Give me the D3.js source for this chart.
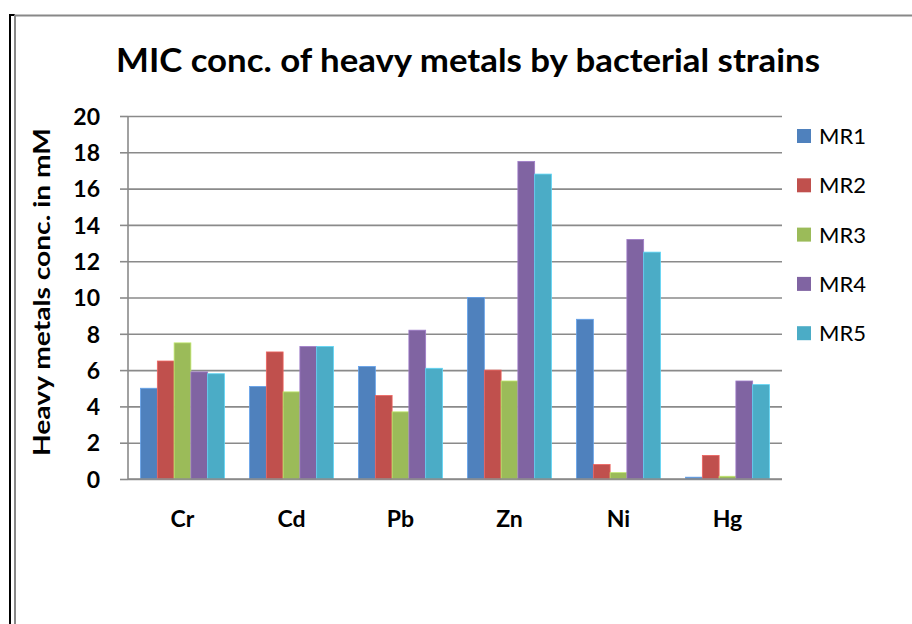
<!DOCTYPE html>
<html>
<head>
<meta charset="utf-8">
<script src="https://cdn.jsdelivr.net/npm/d3@7/dist/d3.min.js"></script>
<style>
  html, body { margin: 0; padding: 0; background: #fff; }
  svg { display: block; }
  text { font-family: Lato, "Open Sans", "Liberation Sans", sans-serif; fill: #000; }
</style>
</head>
<body>
<svg id="chart" width="912" height="624"></svg>
<script>
// Metals tested and MIC values (mM) for each bacterial strain
const categories = ["Cr", "Cd", "Pb", "Zn", "Ni", "Hg"];
const seriesNames = ["MR1", "MR2", "MR3", "MR4", "MR5"];
const MR1 = [5.0, 5.1, 6.2, 10.0, 8.8, 0.1];
const MR2 = [6.5, 7.0, 4.6, 6.0, 0.8, 1.3];
const MR3 = [7.5, 4.8, 3.7, 5.4, 0.35, 0.15];
const MR4 = [5.9, 7.3, 8.2, 17.5, 13.2, 5.4];
const MR5 = [5.8, 7.3, 6.1, 16.8, 12.5, 5.2];
const yTicks = [0, 2, 4, 6, 8, 10, 12, 14, 16, 18, 20];
const colors = ["#4F81BD", "#C0504D", "#9BBB59", "#8064A2", "#4BACC6"];

const seriesValues = [MR1, MR2, MR3, MR4, MR5];
const svg = d3.select("#chart");

// Outer frame
svg.append("path")
  .attr("d", "M10,624 V15 H15")
  .attr("fill", "none").attr("stroke", "#000").attr("stroke-width", 2);
svg.append("path")
  .attr("d", "M15,624 V15.5 H912")
  .attr("fill", "none").attr("stroke", "#888").attr("stroke-width", 2);

const plot = { left: 128, right: 782, top: 116, bottom: 479 };

const y = d3.scaleLinear().domain([0, 20]).range([plot.bottom, plot.top]);
const gapRatio = 1.5 / 6.5;
const x0 = d3.scaleBand().domain(categories)
  .range([plot.left, plot.right])
  .paddingInner(gapRatio).paddingOuter(gapRatio / 2);
const x1 = d3.scaleBand().domain(seriesNames).range([0, x0.bandwidth()]).padding(0);

// Horizontal gridlines with outer tick marks
const yAxis = d3.axisLeft(y).tickValues(yTicks)
  .tickSize(-(plot.right - plot.left)).tickSizeOuter(0).tickFormat(d3.format("d"));
const gy = svg.append("g").attr("transform", `translate(${plot.left},0)`).call(yAxis);
gy.select(".domain").remove();
gy.selectAll(".tick line").attr("stroke", "#8a8a8a").attr("stroke-width", 1.6);
gy.selectAll(".tick").append("line")
  .attr("x1", -8).attr("x2", 0).attr("stroke", "#8a8a8a").attr("stroke-width", 1.6);
gy.selectAll(".tick text")
  .attr("x", -28).attr("dy", "0.36em")
  .attr("font-size", 23).attr("font-weight", 700)
  .attr("text-anchor", "end");

// Vertical axis line
svg.append("line")
  .attr("x1", plot.left).attr("x2", plot.left)
  .attr("y1", plot.top).attr("y2", plot.bottom)
  .attr("stroke", "#8a8a8a").attr("stroke-width", 1.6);

// Bars
const groups = svg.append("g").selectAll("g")
  .data(categories).join("g")
  .attr("transform", d => `translate(${x0(d)},0)`);
groups.selectAll("rect")
  .data((c, i) => seriesNames.map((s, k) => ({ s, k, v: seriesValues[k][i] })))
  .join("rect")
  .attr("x", d => x1(d.s))
  .attr("y", d => y(d.v))
  .attr("width", x1.bandwidth())
  .attr("height", d => y(0) - y(d.v))
  .attr("fill", d => colors[d.k])
  .attr("stroke", d => d3.color(colors[d.k]).brighter(0.6))
  .attr("stroke-width", 0.8);

// Horizontal axis line and category labels
svg.append("line")
  .attr("x1", plot.left).attr("x2", plot.right)
  .attr("y1", plot.bottom).attr("y2", plot.bottom)
  .attr("stroke", "#8a8a8a").attr("stroke-width", 1.6);
svg.append("g").selectAll("text")
  .data(categories).join("text")
  .attr("x", d => x0(d) + x0.bandwidth() / 2)
  .attr("y", 527)
  .attr("text-anchor", "middle")
  .attr("font-size", 23).attr("font-weight", 700)
  .text(d => d);

// Title
svg.append("text")
  .attr("x", 468).attr("y", 72)
  .attr("text-anchor", "middle")
  .attr("font-size", 33).attr("font-weight", 700)
  .attr("textLength", 704).attr("lengthAdjust", "spacingAndGlyphs")
  .text("MIC conc. of heavy metals by bacterial strains");

// Y axis title
svg.append("text")
  .attr("transform", "translate(50,292) rotate(-90)")
  .attr("text-anchor", "middle")
  .attr("font-size", 23).attr("font-weight", 700)
  .attr("textLength", 328).attr("lengthAdjust", "spacingAndGlyphs")
  .text("Heavy metals conc. in mM");

// Legend
const legend = svg.append("g").selectAll("g")
  .data(seriesNames).join("g")
  .attr("transform", (d, i) => `translate(797,${136 + i * 49.3})`);
legend.append("rect")
  .attr("x", 0).attr("y", -7).attr("width", 14).attr("height", 14)
  .attr("fill", (d, i) => colors[i]);
legend.append("text")
  .attr("x", 22).attr("y", 8)
  .attr("font-size", 22)
  .text(d => d);
</script>
</body>
</html>
